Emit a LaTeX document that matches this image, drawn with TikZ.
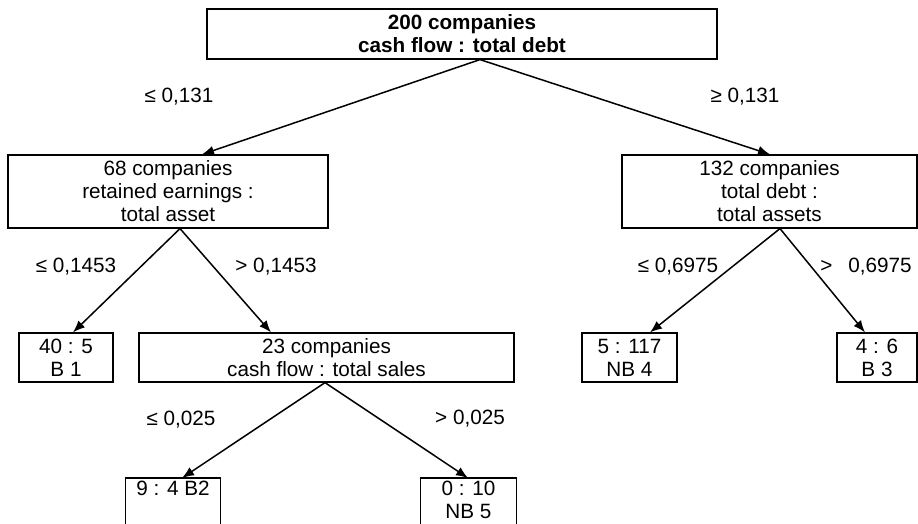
\documentclass[tikz,border=0pt]{standalone}
\usepackage{fontspec}
\setmainfont{Liberation Sans}
\usetikzlibrary{arrows.meta}
\tikzset{
  box/.style={draw, line width=1.2pt, inner sep=0pt, align=center,
    font=\fontsize{20.7}{23}\selectfont},
  openbox/.style={inner xsep=0pt, inner ysep=3pt, align=center, anchor=north,
    font=\fontsize{20.7}{23}\selectfont},
  boxline/.style={line width=1.2pt},
  lbl/.style={inner sep=0pt, font=\fontsize{20.7}{23}\selectfont},
  arr/.style={line width=1.5pt, -{Latex[length=12pt,width=9.5pt]}}
}
\begin{document}
\begin{tikzpicture}[x=1pt,y=-1pt]
\useasboundingbox (0,0) rectangle (918,524);
\clip (0,0) rectangle (918,524);
% boxes
\node[box, minimum width=510, minimum height=50, font=\fontsize{20.7}{23}\selectfont\bfseries] (top) at (462,34) {200 companies\\cash flow : total debt};
\node[box, minimum width=320, minimum height=73] (L1) at (168,191.5) {68 companies\\retained earnings :\\total asset};
\node[box, minimum width=295, minimum height=73] (R1) at (769.5,191.5) {132 companies\\total debt :\\total assets};
\node[box, minimum width=94, minimum height=49] (B1) at (66,357.5) {40 : 5\\B 1};
\node[box, minimum width=375, minimum height=49] (M) at (326.5,357.5) {23 companies\\cash flow : total sales};
\node[box, minimum width=95, minimum height=49] (NB4) at (629.5,357.5) {5 : 117\\NB 4};
\node[box, minimum width=80, minimum height=49] (B3) at (877,357.5) {4 : 6\\B 3};
% leaves cut by the lower edge of the picture
\node[openbox, minimum width=94] (B2) at (173,478) {9 : 4 B2};
\node[openbox, minimum width=95] (NB5) at (468.5,478) {0 : 10\\NB 5};
\draw[boxline] (B2.north west) rectangle ([yshift=-40pt]B2.south east);
\draw[boxline] (NB5.north west) rectangle ([yshift=-20pt]NB5.south east);
% labels
\node[lbl] (l1) at (179,97) {≤ 0,131};
\node[lbl] (l2) at (745,97) {≥ 0,131};
\node[lbl] (l3) at (76,267) {≤ 0,1453};
\node[lbl] (l4) at (276,267) {> 0,1453};
\node[lbl] (l5) at (181,420) {≤ 0,025};
\node[lbl] (l6) at (470,419) {> 0,025};
\node[lbl] (l7) at (678,267) {≤ 0,6975};
\node[lbl] (l8) at (866,267) {>\hspace{16pt}0,6975};
% connectors
\draw[arr] ([xshift=18]top.south) -- ([xshift=34]L1.north);
\draw[arr] ([xshift=18]top.south) -- ([xshift=0.5]R1.north);
\draw[arr] ([xshift=12]L1.south) -- ([xshift=7]B1.north);
\draw[arr] ([xshift=12]L1.south) -- ([xshift=-55.5]M.north);
\draw[arr] ([xshift=-1.5]M.south) -- ([xshift=9]B2.north);
\draw[arr] ([xshift=-1.5]M.south) -- ([xshift=-0.5]NB5.north);
\draw[arr] ([xshift=10.5]R1.south) -- ([xshift=20.5]NB4.north);
\draw[arr] ([xshift=10.5]R1.south) -- ([xshift=-12]B3.north);
\end{tikzpicture}
\end{document}
